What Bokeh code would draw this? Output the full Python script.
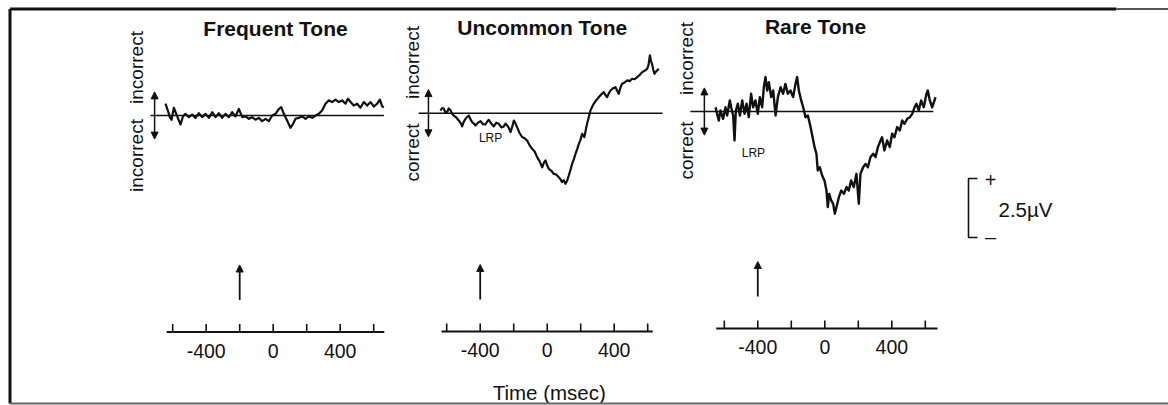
import math
from bokeh.plotting import figure
from bokeh.models import Range1d, Arrow, NormalHead
from bokeh.core.properties import value
from bokeh.embed import file_html
from bokeh.resources import INLINE

# ---------------- data ----------------
titles = ["Frequent Tone", "Uncommon Tone", "Rare Tone"]
upper_labels = ["incorrect", "incorrect", "incorrect"]
lower_labels = ["incorrect", "correct", "correct"]
tick_values = [-600, -400, -200, 0, 200, 400, 600]
tick_label_values = [-400, 0, 400]
tick_label_text = ["-400", "0", "400"]
stimulus_ms = [-200, -400, -400]
lrp_label = ["", "LRP", "LRP"]
scale_uv = 2.5
x_title = "Time (msec)"

freq_t = [-643, -629, -617, -607, -593, -579, -567, -553, -539, -524, -504, -484, -464, -444,
          -424, -404, -384, -364, -344, -325, -305, -285, -265, -245, -225, -205, -185, -165,
          -145, -126, -106, -86, -66, -46, -26, -6, 14, 34, 48, 64, 83, 103, 119, 133, 153,
          173, 193, 213, 233, 253, 272, 292, 312, 332, 352, 372, 392, 412, 432, 446, 462, 481,
          501, 521, 541, 561, 581, 601, 621, 637, 651, 661]
freq_v = [0.50, 0.21, -0.07, -0.18, 0.33, 0.07, -0.14, -0.38, -0.04, 0.07, -0.07, 0.04, -0.10,
          0.10, -0.07, 0.07, -0.10, 0.14, -0.07, 0.10, -0.10, 0.07, -0.07, 0.14, -0.04, 0.28,
          -0.07, -0.04, -0.14, -0.07, -0.18, -0.10, -0.24, -0.14, -0.24, 0.00, 0.07, 0.28, 0.35,
          0.07, -0.21, -0.52, -0.35, -0.14, -0.10, -0.04, -0.14, -0.04, -0.10, 0.00, 0.07, 0.21,
          0.50, 0.64, 0.57, 0.67, 0.57, 0.64, 0.50, 0.71, 0.57, 0.42, 0.50, 0.33, 0.57, 0.42,
          0.57, 0.38, 0.50, 0.67, 0.38, 0.35]

unc_t = [-637, -627, -617, -607, -597, -588, -578, -568, -558, -543, -528, -518, -508, -498,
         -488, -478, -468, -458, -448, -438, -428, -413, -398, -384, -369, -359, -349, -334,
         -319, -304, -289, -274, -259, -249, -239, -229, -219, -209, -199, -190, -180, -165,
         -150, -135, -120, -105, -90, -75, -60, -45, -30, -20, -10, 0, 10, 25, 39, 54, 69, 79,
         89, 99, 109, 119, 129, 139, 149, 159, 169, 179, 189, 199, 209, 216, 222, 230, 238,
         248, 258, 268, 278, 293, 308, 323, 338, 348, 358, 368, 378, 393, 408, 418, 427, 437,
         447, 462, 477, 492, 507, 522, 537, 552, 567, 582, 597, 605, 613, 620, 626, 633, 640,
         648, 656, 666]
unc_v = [0.11, 0.22, 0.19, 0.02, 0.05, 0.20, 0.14, -0.02, -0.10, -0.18, -0.31, -0.40, -0.56,
         -0.36, -0.24, -0.16, -0.10, -0.26, -0.38, -0.44, -0.52, -0.40, -0.34, -0.46, -0.48,
         -0.36, -0.28, -0.44, -0.56, -0.40, -0.45, -0.60, -0.56, -0.44, -0.52, -0.62, -0.80,
         -0.58, -0.31, -0.42, -0.59, -0.84, -1.01, -1.06, -1.16, -1.36, -1.51, -1.62, -1.86,
         -2.04, -2.29, -2.10, -2.00, -2.22, -2.36, -2.44, -2.57, -2.60, -2.71, -2.80, -2.92,
         -2.84, -2.99, -2.86, -2.64, -2.40, -2.14, -1.96, -1.72, -1.52, -1.30, -1.12, -0.87,
         -0.95, -1.01, -0.72, -0.45, -0.18, 0.11, 0.26, 0.40, 0.55, 0.68, 0.80, 0.89, 0.76,
         0.68, 0.84, 0.96, 1.06, 1.10, 0.95, 0.82, 1.08, 1.25, 1.30, 1.39, 1.36, 1.46, 1.44,
         1.53, 1.62, 1.74, 1.80, 1.88, 2.05, 2.45, 2.20, 2.09, 1.85, 1.67, 1.75, 1.81, 1.88]

rare_t = [-652, -643, -633, -623, -607, -593, -583, -567, -559, -547, -539, -531, -519, -507,
          -493, -479, -467, -454, -440, -428, -414, -400, -388, -374, -364, -354, -344, -334,
          -320, -308, -294, -280, -264, -249, -235, -221, -205, -189, -175, -165, -155, -141,
          -129, -115, -101, -85, -69, -61, -50, -42, -30, -16, -2, 10, 18, 26, 38, 50, 60, 70,
          84, 98, 114, 130, 143, 157, 173, 189, 203, 213, 229, 243, 257, 273, 289, 303, 317,
          333, 342, 356, 372, 388, 402, 416, 432, 448, 462, 476, 492, 508, 522, 536, 547, 561,
          575, 591, 607, 615, 627, 641, 655, 661]
rare_v = [0.18, -0.10, -0.38, 0.04, -0.31, 0.18, -0.17, 0.47, 0.18, -0.17, -1.23, 0.04, 0.33,
          -0.17, 0.47, -0.10, 0.33, -0.24, 0.75, 0.18, 0.47, -0.10, 0.61, 0.18, 1.03, 1.46, 0.89,
          1.24, 0.61, 0.89, -0.17, 0.61, 1.03, 0.75, 1.17, 0.75, 0.89, 0.61, 1.17, 1.46, 0.89,
          0.47, 0.18, -0.24, -0.17, -0.66, -1.23, -1.51, -1.79, -2.50, -2.36, -2.71, -2.92, -3.35,
          -4.05, -3.49, -3.77, -3.91, -4.33, -4.05, -3.63, -3.35, -3.49, -3.20, -3.35, -2.92,
          -3.20, -2.64, -3.91, -2.64, -2.36, -2.22, -2.36, -1.93, -1.79, -1.93, -1.51, -1.23,
          -1.09, -1.65, -1.23, -1.51, -0.94, -1.09, -0.66, -0.80, -0.38, -0.52, -0.31, -0.24,
          -0.10, 0.18, 0.33, 0.04, 0.47, 0.18, 0.75, 0.89, 0.47, 0.18, 0.47, 0.61]

series_t = [freq_t, unc_t, rare_t]
series_v = [freq_v, unc_v, rare_v]

# ---------------- layout (pixels of the page) ----------------
W, H = 1168, 405
K = 0.1675          # px per ms
S = 23.6            # px per microvolt
X0 = [272.7, 546.7, 824.3]      # page x of t = 0
Y0 = [115.0, 112.7, 111.0]      # page y of 0 uV
AXIS_Y = [331.5, 331.0, 328.0]
BASE_EXT = [(-733, 661), (-768, 689), (-803, 648)]
AXIS_EXT = [(-636, 663), (-631, 630), (-648, 673)]
DARROW_T = [-708, -709, -719]
LABEL_X = [136, 412, 686]
UPPER_Y = [67, 62, 58]
LOWER_Y = [155, 152, 150]
TITLE_X = [275, 541.7, 815]
TITLE_Y = [28, 27, 26]
LRP_POS = [None, (-338, -1.03), (-426, -1.74)]

FONT = value("Liberation Sans")
INK = "#111111"

p = figure(width=W, height=H, output_backend="svg", toolbar_location=None,
           x_range=Range1d(0, W), y_range=Range1d(H, 0),
           x_axis_location=None, y_axis_location=None,
           min_border=0, min_border_left=0, min_border_right=0,
           min_border_top=0, min_border_bottom=0)
p.grid.visible = False
p.outline_line_color = None
p.background_fill_color = "white"
p.border_fill_color = "white"

for i in range(3):
    tn, vn = f"t{i}", f"v{i}"
    p.extra_x_ranges[tn] = Range1d(-X0[i] / K, (W - X0[i]) / K)
    p.extra_y_ranges[vn] = Range1d((Y0[i] - H) / S, Y0[i] / S)

    # baseline
    p.line(x=list(BASE_EXT[i]), y=[0, 0], x_range_name=tn, y_range_name=vn,
           line_color=INK, line_width=1.6)
    # polarity double arrow
    p.add_layout(Arrow(start=NormalHead(size=7, fill_color=INK, line_color=INK),
                       end=NormalHead(size=7, fill_color=INK, line_color=INK),
                       x_start=DARROW_T[i], y_start=-1.0, x_end=DARROW_T[i], y_end=1.0,
                       x_range_name=tn, y_range_name=vn, line_color=INK, line_width=1.5))
    # trace
    p.line(x=series_t[i], y=series_v[i], x_range_name=tn, y_range_name=vn,
           line_color=INK, line_width=2.4 if i == 2 else 2.2, line_join="round")

    # title
    p.text(x=[TITLE_X[i]], y=[TITLE_Y[i]], text=[titles[i]], text_font=FONT,
           text_font_size="21px", text_font_style="bold", text_align="center",
           text_baseline="middle", text_color=INK)
    # vertical labels
    p.text(x=[LABEL_X[i], LABEL_X[i]], y=[UPPER_Y[i], LOWER_Y[i]],
           text=[upper_labels[i], lower_labels[i]], angle=math.pi / 2,
           text_font=FONT, text_font_size="19px", text_align="center",
           text_baseline="middle", text_color=INK)
    # LRP
    if LRP_POS[i] is not None:
        p.text(x=[LRP_POS[i][0]], y=[LRP_POS[i][1]], text=[lrp_label[i]],
               x_range_name=tn, y_range_name=vn, text_font=FONT, text_font_size="12px",
               text_align="center", text_baseline="middle", text_color=INK)

    # time axis
    ay = AXIS_Y[i]
    p.line(x=list(AXIS_EXT[i]), y=[ay, ay], x_range_name=tn, line_color=INK, line_width=2)
    p.segment(x0=tick_values, x1=tick_values, y0=[ay] * len(tick_values),
              y1=[ay - 8] * len(tick_values), x_range_name=tn, line_color=INK, line_width=1.6)
    p.text(x=tick_label_values, y=[ay + 18.5] * 3, text=tick_label_text, x_range_name=tn,
           text_font=FONT, text_font_size="19.5px", text_align="center",
           text_baseline="middle", text_color=INK)
    # stimulus arrow
    p.add_layout(Arrow(end=NormalHead(size=7, fill_color=INK, line_color=INK),
                       x_start=stimulus_ms[i], y_start=ay - 32, x_end=stimulus_ms[i],
                       y_end=ay - 67, x_range_name=tn, line_color=INK, line_width=1.8))

# axis title
p.text(x=[548.7], y=[391.5], text=[x_title], text_font=FONT, text_font_size="20.5px",
       text_align="center", text_baseline="middle", text_color=INK)

# calibration bar
bx, by = 968, 178
blen = scale_uv * S
p.line(x=[bx + 9, bx, bx, bx + 9], y=[by, by, by + blen, by + blen],
       line_color=INK, line_width=1.6)
p.text(x=[bx + 22, bx + 22], y=[by + 1, by + blen - 1], text=["+", "\u2013"],
       text_font=FONT, text_font_size="20px", text_align="center", text_baseline="middle",
       text_color=INK)
p.text(x=[bx + 30], y=[by + blen / 2 + 1], text=["2.5\u00b5V"], text_font=FONT,
       text_font_size="20.5px", text_align="left", text_baseline="middle", text_color=INK)

# frame
p.line(x=[9.5, 9.5], y=[403, 8.5], line_color="#111111", line_width=3)
p.line(x=[9.5, 1116], y=[8.5, 8.5], line_color="#111111", line_width=3)
p.line(x=[1116, W], y=[8.5, 8.5], line_color="#555555", line_width=2)
p.line(x=[9.5, W], y=[403, 403], line_color="#666666", line_width=2)

open("out.html", "w").write(file_html(p, INLINE))
